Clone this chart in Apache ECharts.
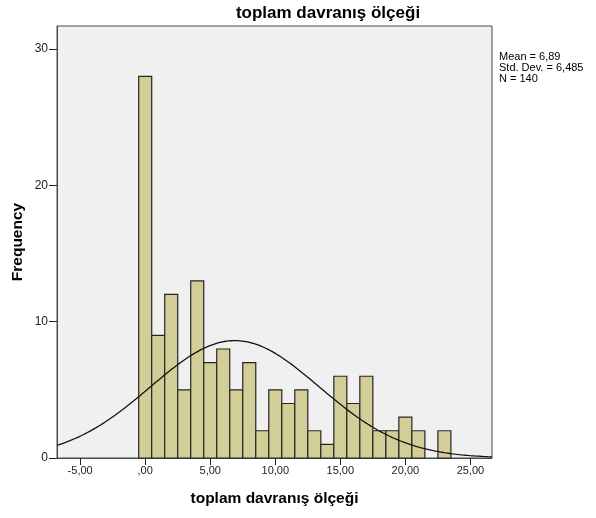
<!DOCTYPE html>
<html>
<head>
<meta charset="utf-8">
<script src="https://cdn.jsdelivr.net/npm/echarts@6/dist/echarts.min.js"></script>
<style>html,body{margin:0;padding:0;background:#fff;}#c{width:596px;height:518px;}</style>
</head>
<body>
<div id="c"></div>
<script>
// Histogram bins: centres (width 1) and frequencies
const binCenters = [0,1,2,3,4,5,6,7,8,9,10,11,12,13,14,15,16,17,18,19,20,21,22,23];
const frequencies = [28,9,12,5,13,7,8,5,7,2,5,4,5,2,1,6,4,6,2,2,3,2,0,2];
const xTicks = [-5,0,5,10,15,20,25];
const yTicks = [0,10,20,30];
// Summary statistics shown in the chart
const mean = 6.89;
const stdDev = 6.485;
const nCases = 140;
const binWidth = 1;
const xMin = -6.78, xMax = 26.66, yMax = 31.7;

const FONT = '"Liberation Sans", Arial, sans-serif';

function fmtX(v){
  if (v === 0) return ',00';
  return (v < 0 ? '-' : '') + Math.abs(v).toFixed(2).replace('.', ',');
}

// Normal curve defined by the displayed mean / std. dev. / N
const curve = [];
for (let i = 0; i <= 400; i++) {
  const x = xMin + (xMax - xMin) * i / 400;
  const z = (x - mean) / stdDev;
  const y = nCases * binWidth / (stdDev * Math.sqrt(2 * Math.PI)) * Math.exp(-0.5 * z * z);
  curve.push([x, y]);
}

const barData = binCenters.map((c, i) => [c, frequencies[i]]);

const chart = echarts.init(document.getElementById('c'), null, {renderer: 'canvas'});
chart.setOption({
  animation: false,
  backgroundColor: '#ffffff',
  grid: {left: 57, right: 104, top: 26, bottom: 60, show: true,
         backgroundColor: '#F0F0F0', borderColor: '#4a4a4a', borderWidth: 1},
  xAxis: {
    type: 'value', min: xMin, max: xMax,
    name: 'toplam davranış ölçeği', nameLocation: 'middle', nameGap: 33,
    nameTextStyle: {fontFamily: FONT, fontWeight: 'bold', fontSize: 15.5, color: '#000'},
    axisLine: {show: true, onZero: false, lineStyle: {color: '#4a4a4a', width: 1}},
    axisTick: {show: true, length: 7, customValues: xTicks, lineStyle: {color: '#222'}},
    axisLabel: {customValues: xTicks, formatter: fmtX, margin: 7,
                fontFamily: FONT, fontSize: 11, color: '#222'},
    splitLine: {show: false}
  },
  yAxis: {
    type: 'value', min: 0, max: yMax,
    name: 'Frequency', nameLocation: 'middle', nameGap: 31, nameMoveOverlap: false,
    nameTextStyle: {fontFamily: FONT, fontWeight: 'bold', fontSize: 15.5, color: '#000'},
    axisLine: {show: true, onZero: false, lineStyle: {color: '#4a4a4a', width: 1}},
    axisTick: {show: true, length: 8, customValues: yTicks, lineStyle: {color: '#222'}},
    axisLabel: {customValues: yTicks, margin: 9, fontFamily: FONT, fontSize: 12, color: '#222'},
    splitLine: {show: false}
  },
  series: [
    {
      type: 'custom',
      data: barData,
      renderItem: function (params, api) {
        const c = api.value(0), v = api.value(1);
        if (!v) return null;
        const p1 = api.coord([c - binWidth / 2, v]);
        const p2 = api.coord([c + binWidth / 2, 0]);
        return {
          type: 'rect',
          shape: {x: p1[0], y: p1[1], width: p2[0] - p1[0], height: p2[1] - p1[1]},
          style: {fill: '#D3CE97', stroke: '#262626', lineWidth: 1.2}
        };
      },
      z: 2
    },
    {
      type: 'line',
      data: curve,
      showSymbol: false,
      symbol: 'none',
      lineStyle: {color: '#111', width: 1.3},
      z: 3
    }
  ],
  graphic: [
    {type: 'text', x: 328, y: 13, style: {text: 'toplam davranış ölçeği', align: 'center', verticalAlign: 'middle',
      font: 'bold 17px ' + FONT, fill: '#000'}},
    {type: 'text', x: 499, y: 51, style: {text: 'Mean = 6,89\nStd. Dev. = 6,485\nN = 140',
      font: '11px ' + FONT, lineHeight: 11, fill: '#000', verticalAlign: 'top'}}
  ]
});
</script>
</body>
</html>
